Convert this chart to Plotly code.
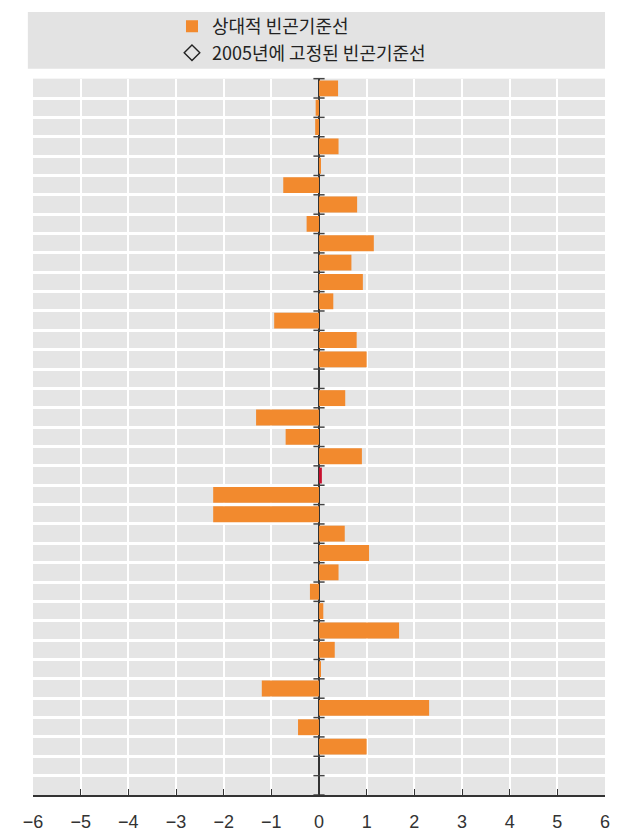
import plotly.graph_objects as go

# Row positions (top to bottom); category labels are not shown in the reference
rows = list(range(37))
relative_line = [0.40, -0.07, -0.08, 0.41, 0.03, -0.75, 0.80, -0.26, 1.15, 0.68,
                 0.92, 0.30, -0.94, 0.79, 1.00, 0.0, 0.55, -1.32, -0.70, 0.90,
                 0.06, -2.22, -2.22, 0.54, 1.05, 0.41, -0.19, 0.09, 1.68, 0.33,
                 0.04, -1.20, 2.31, -0.44, 1.00, 0.0, 0.0]
highlight_row = 20
x_ticks = list(range(-6, 7))

orange = "#f28a2e"
red = "#c8102e"
bar_colors = [red if i == highlight_row else orange for i in rows]
boundaries = [r - 0.5 for r in rows] + [rows[-1] + 0.5]

fig = go.Figure()
fig.add_trace(go.Bar(
    x=relative_line, y=rows, orientation="h",
    marker=dict(color=bar_colors, line=dict(width=0)),
    name="상대적 빈곤기준선", legendgroup="a", showlegend=True,
))
fig.add_trace(go.Scatter(
    x=[None], y=[None], mode="markers",
    marker=dict(symbol="diamond-open", size=12, color="#222", line=dict(width=1.4)),
    name="2005년에 고정된 빈곤기준선", legendgroup="b",
))
# small tick marks on the zero line at each row boundary
fig.add_trace(go.Scatter(
    x=[0] * len(boundaries), y=boundaries, mode="markers",
    marker=dict(symbol="line-ew", size=8, line=dict(width=1.5, color="#444")),
    showlegend=False, hoverinfo="skip", cliponaxis=False,
))

# paper spans 825 px (window y 8..833); plot area spans y 75..795
fig.update_layout(
    width=608, height=825,
    margin=dict(l=25, r=11, t=0, b=38),
    paper_bgcolor="white", plot_bgcolor="#e5e5e5",
    bargap=0.18,
    font=dict(family="Noto Sans CJK KR, sans-serif", size=18, color="#222"),
    showlegend=True,
    legend=dict(x=0.243, y=0.9647, xanchor="left", yanchor="middle",
                bgcolor="rgba(0,0,0,0)", tracegroupgap=0,
                font=dict(size=18, color="#222")),
    shapes=[dict(type="rect", xref="paper", yref="paper",
                 x0=-0.009, x1=1.0, y0=0.9276, y1=1.0,
                 fillcolor="#e3e3e3", line=dict(width=0), layer="below")],
)
fig.update_xaxes(
    range=[-6, 6], tickvals=x_ticks, showgrid=True, gridcolor="white", gridwidth=2,
    zeroline=True, zerolinecolor="#333", zerolinewidth=1.8,
    showline=True, linecolor="#333", linewidth=1.5,
    ticks="inside", ticklen=6, tickcolor="#333", tickwidth=1.2,
    ticklabelstandoff=10, automargin=False,
    tickfont=dict(size=18, color="#333", family="Liberation Sans, Arial, sans-serif"),
    fixedrange=True,
)
fig.update_yaxes(
    domain=[0, 0.91487], automargin=False,
    range=[rows[-1] + 0.5, -0.5], tickvals=boundaries, showticklabels=False,
    showgrid=True, gridcolor="white", gridwidth=3, zeroline=False, ticks="",
    fixedrange=True,
)

fig.write_html("out.html")
